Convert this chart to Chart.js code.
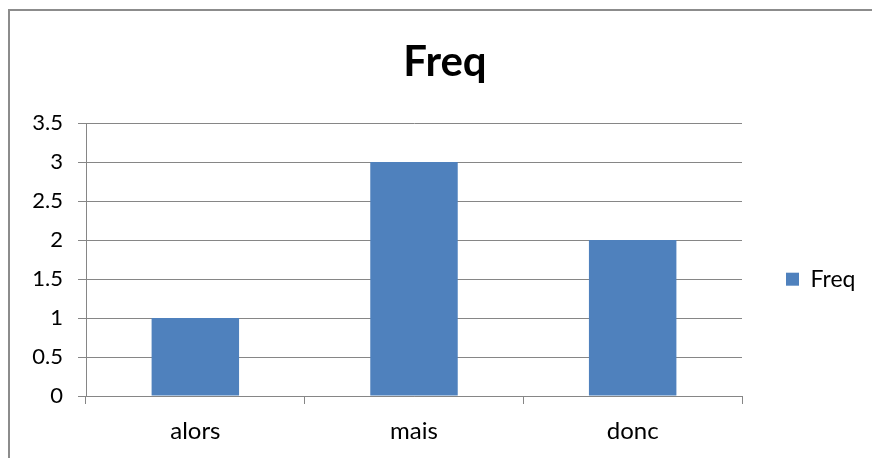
<!DOCTYPE html>
<html>
<head>
<meta charset="utf-8">
<script src="https://cdn.jsdelivr.net/npm/chart.js@4"></script>
<style>
    html, body { margin: 0; padding: 0; background: #fff; overflow: hidden; }
    #wrap { position: relative; width: 872px; height: 458px; }
    #frame { position: absolute; left: 8px; top: 9px; width: 900px; height: 500px; border: 2px solid #8c8c8c; box-sizing: border-box; }
    canvas { position: absolute; left: 0; top: 0; }
</style>
</head>
<body>
<div id="wrap">
    <div id="frame"></div>
    <canvas id="freqChart" width="872" height="458"></canvas>
</div>
<script>
// données du graphique
const categories = ['alors', 'mais', 'donc'];
const freqValues = [1, 3, 2];
const seriesName = 'Freq';
const yTicks = [0, 0.5, 1, 1.5, 2, 2.5, 3, 3.5];

const gridColor = '#868686';
const textColor = '#000000';

// la légende garde une largeur fixe à droite
const legendWidthPlugin = {
    id: 'legendWidth',
    beforeLayout(chart) {
        const lg = chart.legend;
        if (lg && !lg._fixedWidth) {
            const fit = lg.fit;
            lg.fit = function () {
                fit.call(this);
                if (!this.isHorizontal()) this.width = 130;
            };
            lg._fixedWidth = true;
        }
    }
};

const ctx = document.getElementById('freqChart').getContext('2d');
new Chart(ctx, {
    type: 'bar',
    data: {
        labels: categories,
        datasets: [{
            label: seriesName,
            data: freqValues,
            backgroundColor: '#4f81bd',
            borderWidth: 0,
            categoryPercentage: 1,
            barPercentage: 0.4
        }]
    },
    options: {
        responsive: false,
        animation: false,
        devicePixelRatio: 1,
        layout: { padding: { left: 18, right: 0, top: 0, bottom: 0 } },
        plugins: {
            title: {
                display: true,
                text: 'Freq',
                color: textColor,
                font: { family: 'Lato', size: 42, weight: 'bold' },
                padding: { top: 37, bottom: 35.6 }
            },
            legend: {
                position: 'right',
                align: 'center',
                title: { display: true, text: '', padding: 43 },
                labels: {
                    color: textColor,
                    font: { family: 'Lato', size: 23 },
                    boxWidth: 13,
                    boxHeight: 13,
                    padding: 44
                }
            },
            tooltip: { enabled: false }
        },
        scales: {
            x: {
                offset: true,
                grid: {
                    display: true,
                    offset: true,
                    drawOnChartArea: false,
                    drawTicks: true,
                    tickLength: 8,
                    color: gridColor
                },
                border: { display: true, color: gridColor },
                ticks: {
                    color: textColor,
                    font: { family: 'Lato', size: 24 },
                    padding: 13,
                    maxRotation: 0
                },
                afterFit(scale) { scale.height = 62; }
            },
            y: {
                min: 0,
                max: 3.5,
                grid: {
                    color: gridColor,
                    drawTicks: true,
                    tickLength: 8
                },
                border: { display: true, color: gridColor },
                ticks: {
                    color: textColor,
                    font: { family: 'Lato', size: 22 },
                    padding: 15,
                    stepSize: 0.5,
                    callback: value => String(value)
                },
                afterBuildTicks(scale) {
                    scale.ticks = yTicks.map(v => ({ value: v }));
                },
                afterFit(scale) { scale.width = 68; }
            }
        }
    },
    plugins: [legendWidthPlugin]
});
</script>
</body>
</html>
